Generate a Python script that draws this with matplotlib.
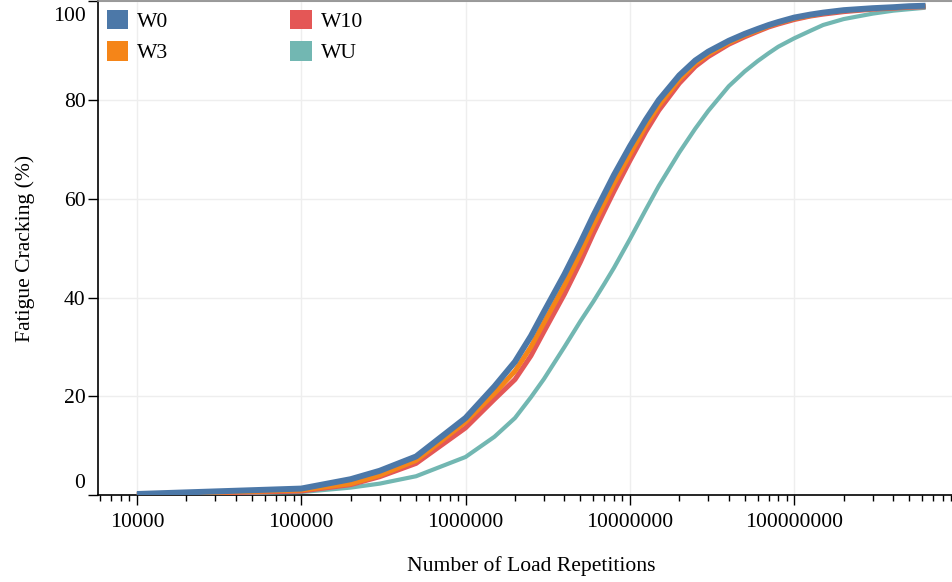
import matplotlib.pyplot as plt
from matplotlib.patches import Patch
from matplotlib.transforms import ScaledTranslation
import matplotlib.ticker as mtick

plt.rcParams["font.family"] = ["Liberation Serif", "DejaVu Serif"]

# load repetitions (x) and fatigue cracking (%) for each wheel case
reps = [1e4, 1e5, 2e5, 3e5, 5e5, 1e6, 1.5e6, 2e6, 2.5e6, 3e6, 4e6, 5e6, 6e6,
        7e6, 8e6, 1e7, 1.25e7, 1.5e7, 2e7, 2.5e7, 3e7, 4e7, 5e7, 6e7, 7e7,
        8e7, 1e8, 1.25e8, 1.5e8, 2e8, 3e8, 4e8, 5e8, 6.3e8]

w0 = [0.2, 1.3, 3.2, 4.9, 7.8, 15.6, 22.0, 27.0, 32.2, 37.1, 44.7, 51.1, 56.6,
      61.0, 64.8, 70.6, 76.0, 80.0, 85.0, 88.0, 89.8, 92.0, 93.4, 94.4, 95.2,
      95.8, 96.7, 97.3, 97.7, 98.2, 98.6, 98.8, 99.0, 99.1]
w3 = [0.1, 1.0, 2.3, 4.0, 7.0, 14.8, 20.6, 25.1, 30.0, 34.9, 42.5, 49.0, 54.7,
      59.2, 63.1, 69.0, 74.8, 78.9, 84.2, 87.4, 89.3, 91.6, 93.1, 94.1, 95.0,
      95.6, 96.5, 97.1, 97.6, 98.1, 98.5, 98.7, 98.9, 99.0]
w10 = [0.1, 0.8, 2.1, 3.7, 6.4, 13.6, 19.4, 23.4, 28.2, 33.1, 40.7, 47.2, 53.0,
       57.6, 61.5, 67.7, 73.6, 77.9, 83.4, 86.8, 88.8, 91.3, 92.8, 93.9, 94.8,
       95.4, 96.3, 97.0, 97.4, 97.9, 98.4, 98.6, 98.8, 98.9]
wu = [0.0, 0.6, 1.5, 2.3, 3.8, 7.7, 11.8, 15.6, 19.8, 23.5, 30.0, 35.2, 39.2,
      42.8, 46.0, 51.8, 57.8, 62.6, 69.4, 74.2, 77.8, 82.8, 85.8, 87.9, 89.5,
      90.8, 92.5, 94.0, 95.2, 96.4, 97.5, 98.1, 98.4, 98.7]

series = [("W0", w0, "#4c78a8", 4.3), ("W3", w3, "#f58518", 3.6),
          ("W10", w10, "#e45756", 3.6), ("WU", wu, "#72b7b2", 3.0)]

W, H = 953, 582
fig = plt.figure(figsize=(W / 100, H / 100), dpi=100)
left, right, bottom, top = 98, 964, 495, 1.3
ax = fig.add_axes([left / W, (H - bottom) / H, (right - left) / W, (bottom - top) / H])

# draw WU first so that W0 sits on top
for name, vals, col, lw in reversed(series):
    ax.plot(reps, vals, color=col, lw=lw, solid_capstyle="butt", zorder=3)

ax.set_xscale("log")
ax.set_xlim(5800, 1.08e9)
ax.set_ylim(0, 100)
ax.set_yticks(range(0, 101, 20))
ax.set_xticks([1e4, 1e5, 1e6, 1e7, 1e8])
ax.xaxis.set_major_formatter(mtick.FuncFormatter(lambda v, _: f"{int(round(v))}"))
ax.xaxis.set_minor_locator(mtick.LogLocator(base=10, subs=range(2, 10), numticks=20))
ax.xaxis.set_minor_formatter(mtick.NullFormatter())

ax.grid(True, which="major", color="#eeeeee", lw=1.0, zorder=0)
ax.set_axisbelow(True)

fs = 15.6
ax.tick_params(axis="both", which="major", length=7, width=1, labelsize=fs, color="black")
ax.tick_params(axis="x", which="major", pad=6)
ax.tick_params(axis="y", which="major", pad=2)
ax.tick_params(axis="x", which="minor", length=4, width=1, color="black")

# end labels are pushed inside the axis range, as in the original
for lab, v in zip(ax.get_yticklabels(), range(0, 101, 20)):
    if v == 0:
        lab.set_va("bottom")
        lab.set_transform(lab.get_transform() + ScaledTranslation(0, 2 / 100, fig.dpi_scale_trans))
    elif v == 100:
        lab.set_va("top")
        lab.set_transform(lab.get_transform() + ScaledTranslation(0, -6 / 100, fig.dpi_scale_trans))

for s in ["left", "bottom"]:
    ax.spines[s].set_color("black")
    ax.spines[s].set_linewidth(1.2)
ax.spines["right"].set_visible(False)
ax.spines["top"].set_color("#888888")
ax.spines["top"].set_linewidth(1.2)

ax.set_xlabel("Number of Load Repetitions", fontsize=fs)
ax.set_ylabel("Fatigue Cracking (%)", fontsize=fs)
ax.xaxis.set_label_coords((531 - left) / (right - left), (bottom - 566) / (bottom - top))
ax.xaxis.label.set_va("center")
ax.yaxis.set_label_coords((25 - left) / (right - left), 0.5)
ax.yaxis.label.set_va("center")

handles = [Patch(facecolor=c, edgecolor="none", label=n) for n, _, c, _ in series]
leg = ax.legend(handles=handles, ncol=2, loc="upper left", frameon=False,
                fontsize=fs, handlelength=1.0, handleheight=1.0,
                handletextpad=0.42, columnspacing=5.6, labelspacing=0.42,
                borderaxespad=0.3, borderpad=0.1)

fig.savefig("out.png", dpi=100)
